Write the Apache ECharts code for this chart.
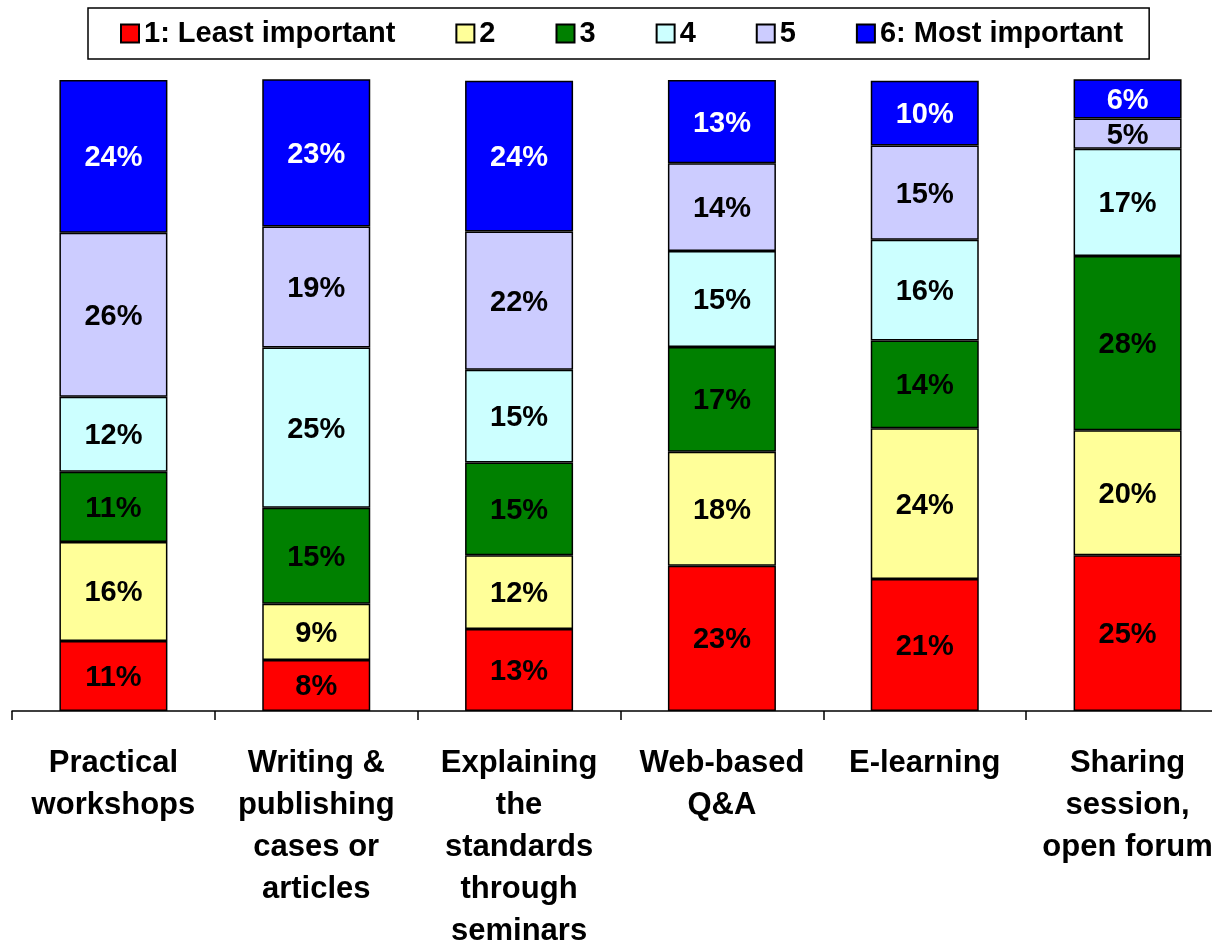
<!DOCTYPE html>
<html>
<head>
<meta charset="utf-8">
<script src="https://cdn.jsdelivr.net/npm/echarts@6/dist/echarts.min.js"></script>
<style>html,body{margin:0;padding:0;background:#fff;overflow:hidden}#c{width:1212px;height:941px}</style>
</head>
<body>
<div id="c"></div>
<script>
var categories = ["Practical\nworkshops", "Writing &\npublishing\ncases or\narticles", "Explaining\nthe\nstandards\nthrough\nseminars", "Web-based\nQ&A", "E-learning", "Sharing\nsession,\nopen forum"];
var seriesNames = ["1: Least important", "2", "3", "4", "5", "6: Most important"];
var rank1 = [11.1, 8.1, 13.0, 23.0, 20.9, 24.7];
var rank2 = [15.7, 8.9, 11.7, 18.1, 23.9, 19.8];
var rank3 = [11.1, 15.2, 14.7, 16.6, 13.9, 27.6];
var rank4 = [11.9, 25.4, 14.7, 15.2, 16.0, 17.0];
var rank5 = [26.0, 19.2, 21.9, 13.9, 14.9, 4.8];
var rank6 = [24.2, 23.3, 23.9, 13.2, 10.3, 6.2];

var colors = ["#FF0000", "#FFFF99", "#008000", "#CCFFFF", "#CCCCFF", "#0000FF"];
var labelColors = ["#000", "#000", "#000", "#000", "#000", "#fff"];
var dataSets = [rank1, rank2, rank3, rank4, rank5, rank6];
var FF = "'Liberation Sans', Arial, sans-serif";

var series = dataSets.map(function (d, i) {
  return {
    name: seriesNames[i],
    type: 'bar',
    stack: 'total',
    barWidth: 108,
    data: d,
    itemStyle: { color: colors[i], borderColor: '#000', borderWidth: 1.5 },
    label: {
      show: true, position: 'inside', offset: [0, 2],
      formatter: function (p) { return Math.round(p.value) + '%'; },
      color: labelColors[i], fontFamily: FF, fontWeight: 'bold', fontSize: 29
    },
    emphasis: { disabled: true }
  };
});

var chart = echarts.init(document.getElementById('c'), null, { renderer: 'canvas' });
chart.setOption({
  animation: false,
  backgroundColor: '#fff',
  legend: {
    data: seriesNames,
    icon: 'rect',
    left: 88, top: 8,
    padding: [11, 26, 11, 32],
    itemGap: 60,
    itemWidth: 18, itemHeight: 18,
    borderColor: '#000', borderWidth: 1.5,
    textStyle: { fontFamily: FF, fontWeight: 'bold', fontSize: 29, color: '#000' }
  },
  grid: { left: 12, top: 80, width: 1217, bottom: 230, containLabel: false, outerBoundsMode: 'none' },
  xAxis: {
    type: 'category', data: categories,
    axisLine: { lineStyle: { color: '#000', width: 1.5 } },
    axisTick: { show: true, length: 9, alignWithLabel: false, lineStyle: { color: '#000', width: 1.5 } },
    axisLabel: { interval: 0, margin: 31, fontFamily: FF, fontWeight: 'bold', fontSize: 31, lineHeight: 42, color: '#000', align: 'center', hideOverlap: false }
  },
  yAxis: { type: 'value', min: 0, max: 100, show: false },
  series: series
});
</script>
</body>
</html>
